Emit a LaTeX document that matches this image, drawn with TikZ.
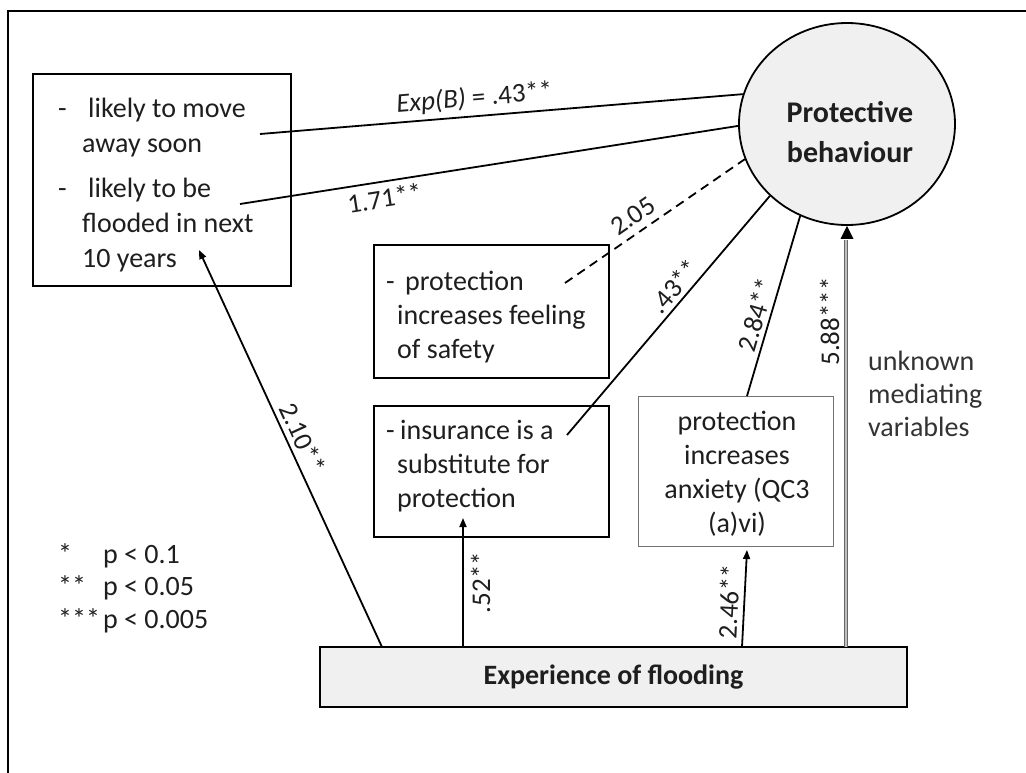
\documentclass[tikz,border=0pt]{standalone}
\usepackage{fontspec}
\setmainfont{Carlito}
\usetikzlibrary{arrows.meta,calc,shapes.geometric}
\definecolor{txt}{HTML}{1E1E1E}
\definecolor{fillg}{HTML}{F0F0F0}
\begin{document}
\begin{tikzpicture}[x=1pt,y=-1pt,
  every node/.style={text=txt},
  box/.style={draw=black, line width=1.8pt, inner sep=0pt, anchor=north west},
  tblock/.style={anchor=base west, inner sep=0pt},
  lbl/.style={font=\fontsize{27}{30}\selectfont, inner sep=2pt, sloped},
  conn/.style={line width=1.8pt, draw=black},
  arr/.style={conn, -{Triangle[length=9pt,width=7pt]}}]
\useasboundingbox (0,0) rectangle (1026,772);
\fill[white] (0,0) rectangle (1026,772);
% outer frame
\draw[line width=1.8pt] (1040,11) -- (8,11) -- (8,790);

% boxes
\node[box, minimum width=258pt, minimum height=212pt] (b1) at (32,73) {};
\node[tblock, font=\fontsize{28}{35}\selectfont] (t1) at (58,117)
  {\begin{tabular}[t]{@{}p{24pt}@{}l@{}}-&\hspace{6pt}likely to move\\&away soon\\[10pt]-&\hspace{6pt}likely to be\\&flooded in next\\&10 years\end{tabular}};

\node[box, minimum width=235pt, minimum height=133pt] (b3) at (373,244) {};
\node[tblock, font=\fontsize{28}{34}\selectfont] (t3) at (386,290)
  {\begin{tabular}[t]{@{}p{11pt}@{}l@{}}-&\hspace{8pt}protection\\&increases feeling\\&of safety\end{tabular}};

\node[box, minimum width=235pt, minimum height=131pt] (b4) at (373,405) {};
\node[tblock, font=\fontsize{28}{34}\selectfont] (t4) at (386,439)
  {\begin{tabular}[t]{@{}p{11pt}@{}l@{}}-&\hspace{3pt}insurance is a\\&substitute for\\&protection\end{tabular}};

\node[box, draw=black!55, line width=1pt, minimum width=195pt, minimum height=150pt] (b5) at (638,396) {};
\node[anchor=base, inner sep=0pt, font=\fontsize{28}{34}\selectfont] (t5) at (737,430)
  {\begin{tabular}[t]{@{}c@{}}protection\\increases\\anxiety (QC3\\(a)vi)\end{tabular}};

\node[draw=black, line width=1.8pt, fill=fillg, inner sep=0pt, minimum width=587pt, minimum height=60pt,
  font=\bfseries\fontsize{28}{34}\selectfont] (ef) at (613.5,677) {Experience of flooding};

% protective behaviour
\node[ellipse, draw=black, line width=1.8pt, fill=fillg, minimum width=216pt, minimum height=202pt, inner sep=0pt] (pb) at (847,124) {};
\node[anchor=base, inner sep=0pt, font=\bfseries\fontsize{30}{40}\selectfont] (pbt) at (850,122)
  {\begin{tabular}[t]{@{}c@{}}Protective\\behaviour\end{tabular}};

% unknown mediating variables
\node[tblock, text=black!80, font=\fontsize{28}{33}\selectfont] (um) at (868,370)
  {\begin{tabular}[t]{@{}l@{}}unknown\\mediating\\variables\end{tabular}};

% legend
\node[tblock, font=\fontsize{28}{32.5}\selectfont] (leg) at (58,563)
  {\begin{tabular}[t]{@{}p{45pt}@{}l@{}}*&p < 0.1\\\relax **&p < 0.05\\\relax ***&p < 0.005\end{tabular}};

% coordinates
\coordinate (c1) at (260,134);
\coordinate (c2) at (240,204);
\coordinate (c3) at (565,283);
\coordinate (c4) at (567,435);
\coordinate (c5) at (747,396);
\coordinate (e1) at (382,647);
\coordinate (a1) at (199,250);
\coordinate (e2) at (463,647);
\coordinate (a2) at (463,518);
\coordinate (e3) at (742,647);
\coordinate (a3) at (747,550);
\coordinate (e4) at (846,647);
\coordinate (a4) at (846,240);

% connectors to protective behaviour
\draw[conn] (c1) -- node[lbl, above=3pt, pos=0.447] (l1) {\textit{Exp(B)} = .43**} (pb.164.5);
\draw[conn] (c2) -- node[lbl, below=4pt, pos=0.285] (l2) {1.71**} (pb.181);
\draw[conn, dash pattern=on 9pt off 6pt] (c3) -- node[lbl, above=5pt, pos=0.43] (l3) {2.05} (pb.199);
\draw[conn] (c4) -- node[lbl, above=2pt, pos=0.584] (l4) {.43**} (pb.223);
\draw[conn] (c5) -- node[lbl, above=2pt, pos=0.43] (l5) {2.84**} (pb.243);

% arrows from experience
\draw[arr] (e1) -- node[lbl, above=3pt, pos=0.51] (l7) {2.10**} (a1);
\draw[arr] (e2) -- node[lbl, below=5pt, pos=0.5] (l8) {.52**} (a2);
\draw[arr] (e3) -- node[lbl, above=3pt, pos=0.46] (l9) {2.46**} (a3);
\draw[line width=1.3pt, draw=black!60, double=black!25, double distance=1.6pt] (e4) -- node[lbl, above=4pt, pos=0.8] (l6) {5.88***} (a4);
\fill[black] (pb.south) -- ++(-6.5,13) -- ++(13,0) -- cycle;
\end{tikzpicture}
\end{document}
